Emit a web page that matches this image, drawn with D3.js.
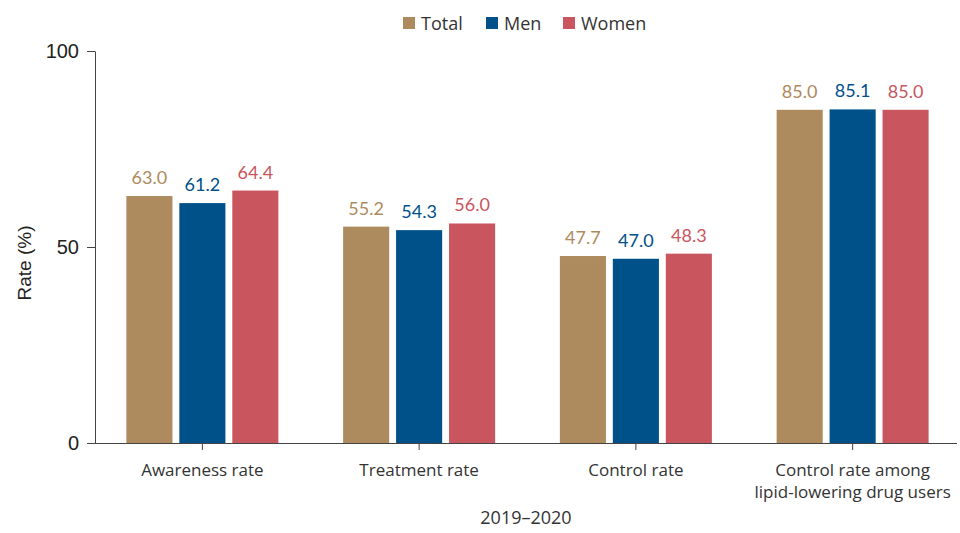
<!DOCTYPE html>
<html>
<head>
	<meta charset="utf-8">
	<style>
		body { margin: 0; background: #fff; }
		.axis path, .axis line { stroke: #444; }
		.ytick text { font-family: "Liberation Sans", Arial, sans-serif; font-size: 20px; fill: #222; }
		.xtick text { font-family: "Open Sans", sans-serif; font-size: 17px; fill: #333; }
		.legend text { font-family: "Open Sans", sans-serif; font-size: 18px; fill: #333; }
		.val { font-family: "Lato", sans-serif; font-size: 18px; }
	</style>
</head>
<body>
<div id="graph"></div>
<script src="https://cdnjs.cloudflare.com/ajax/libs/d3/7.8.5/d3.min.js"></script>
<script>
	var categories = ["Awareness rate", "Treatment rate", "Control rate", "Control rate among|lipid-lowering drug users"];
	var seriesNames = ["Total", "Men", "Women"];
	var total = [63.0, 55.2, 47.7, 85.0];
	var men = [61.2, 54.3, 47.0, 85.1];
	var women = [64.4, 56.0, 48.3, 85.0];
	var yTicks = [0, 50, 100];
	var colors = ["#AE8A5F", "#00508A", "#C9555E"];

	var W = 960, H = 533;
	var svg = d3.select("#graph").append("svg").attr("width", W).attr("height", H);

	var x = d3.scaleBand().domain(categories).range([94, 961]);
	var xs = d3.scaleBand().domain(seriesNames).range([0, 152]).paddingInner(0.13);
	var y = d3.scaleLinear().domain([0, 100]).range([443, 51]);

	var rows = categories.map(function(c, i) {
		return { cat: c, vals: [total[i], men[i], women[i]] };
	});

	// bars
	var g = svg.selectAll(".grp").data(rows).enter().append("g")
		.attr("transform", function(d) { return "translate(" + (x(d.cat) + x.bandwidth() / 2 - 76) + ",0)"; });

	g.selectAll("rect").data(function(d) { return d.vals; }).enter().append("rect")
		.attr("x", function(d, i) { return xs(seriesNames[i]); })
		.attr("width", xs.bandwidth())
		.attr("y", function(d) { return y(d); })
		.attr("height", function(d) { return y(0) - y(d); })
		.attr("fill", function(d, i) { return colors[i]; });

	g.selectAll(".val").data(function(d) { return d.vals; }).enter().append("text")
		.attr("class", "val")
		.attr("text-anchor", "middle")
		.attr("x", function(d, i) { return xs(seriesNames[i]) + xs.bandwidth() / 2; })
		.attr("y", function(d) { return y(d) - 12; })
		.attr("fill", function(d, i) { return colors[i]; })
		.text(function(d) { return d.toFixed(1); });

	// y axis
	svg.append("g").attr("class", "axis ytick")
		.attr("transform", "translate(95,0)")
		.call(d3.axisLeft(y).tickValues(yTicks).tickSize(8).tickSizeOuter(0).tickPadding(8));

	// x axis
	var xAxis = svg.append("g").attr("class", "axis xtick")
		.attr("transform", "translate(0,443)")
		.call(d3.axisBottom(x).tickSize(7).tickSizeOuter(0).tickFormat(""));
	xAxis.select(".domain").attr("d", "M95,0.5H957");

	xAxis.selectAll(".tick").each(function(d) {
		var t = d3.select(this).append("text")
			.attr("text-anchor", "middle")
			.attr("fill", "#333");
		d.split("|").forEach(function(line, i) {
			t.append("tspan").attr("x", 0).attr("y", 33 + i * 22).text(line);
		});
	});

	svg.append("text")
		.attr("x", 526).attr("y", 524)
		.attr("text-anchor", "middle")
		.style("font-family", "Open Sans, sans-serif").style("font-size", "18px").attr("fill", "#333")
		.text("2019–2020");

	svg.append("text")
		.attr("transform", "translate(31,263) rotate(-90)")
		.attr("text-anchor", "middle")
		.style("font-family", "Liberation Sans, Arial, sans-serif").style("font-size", "19px").attr("fill", "#222")
		.text("Rate (%)");

	// legend
	var legX = [403, 486, 563];
	var leg = svg.append("g").attr("class", "legend").selectAll("g").data(seriesNames).enter().append("g")
		.attr("transform", function(d, i) { return "translate(" + legX[i] + ",17)"; });
	leg.append("rect").attr("width", 12).attr("height", 12).attr("fill", function(d, i) { return colors[i]; });
	leg.append("text").attr("x", 18).attr("y", 13).text(function(d) { return d; });
</script>
</body>
</html>
